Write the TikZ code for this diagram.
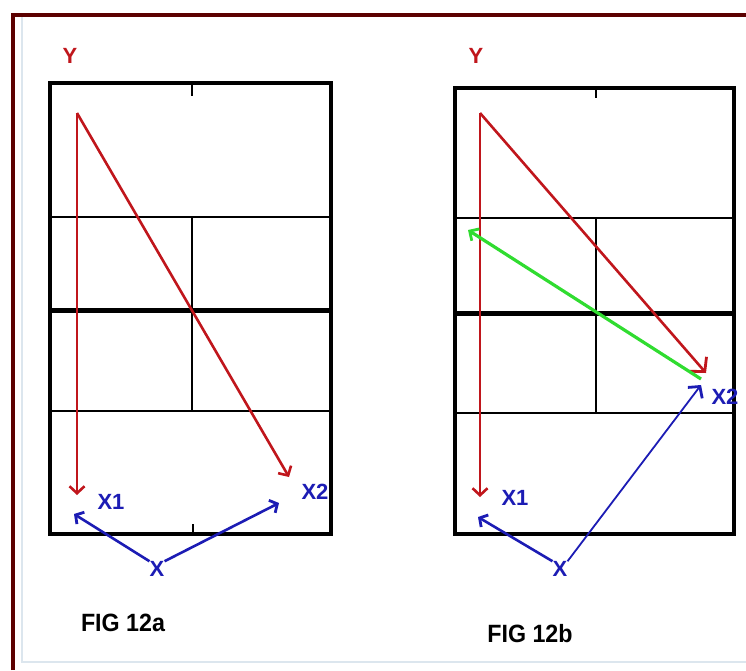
\documentclass[tikz,border=0pt]{standalone}
\usepackage{fontspec}
\setmainfont{Liberation Sans}
\usetikzlibrary{arrows.meta}
\definecolor{frame}{HTML}{5C0000}
\definecolor{vred}{HTML}{C0161C}
\definecolor{vblue}{HTML}{1C1CB4}
\definecolor{vgreen}{HTML}{30DC30}
\definecolor{faint}{HTML}{DCE6EE}
\tikzset{
  boxline/.style={line width=3.6pt,black},
  thinline/.style={line width=1.7pt,black},
  midline/.style={line width=5pt,black},
  redarrow/.style={line width=2.6pt,vred,-{Straight Barb[length=7pt,width=15pt,line width=2.6pt]}},
  bluearrow/.style={line width=2.6pt,vblue,-{Straight Barb[length=6pt,width=14pt,line width=2.8pt]}},
  greenarrow/.style={line width=3.2pt,vgreen,-{Straight Barb[length=7pt,width=14pt,line width=2.8pt]}},
  lbl/.style={font=\fontsize{22}{22}\bfseries\selectfont,inner sep=0pt},
  redlbl/.style={lbl,vred},
  bluelbl/.style={lbl,vblue},
  figlbl/.style={font=\fontsize{25}{25}\bfseries\selectfont,inner sep=0pt,xscale=0.93},
}
\begin{document}
\begin{tikzpicture}[x=1pt,y=-1pt]
\useasboundingbox (0,0) rectangle (746,670);
% frame
\draw[faint,line width=1.5pt] (22,17) -- (22,662) -- (746,662);
\draw[frame,line width=4.5pt] (13,670) -- (13,15) -- (746,15);

% ---------- FIG 12a ----------
\draw[thinline] (50,217) -- (331,217);
\draw[thinline] (50,411) -- (331,411);
\draw[thinline] (192,217) -- (192,411);
\draw[thinline] (192,83) -- (192,96);
\draw[thinline] (193,534) -- (193,524);
\draw[midline] (50,310) -- (331,310);
\draw[boxline] (50,83) rectangle (331,534);

\coordinate (a-top) at (77,113);
\coordinate (a-x1) at (77,495);
\coordinate (a-x2) at (289,477);
\coordinate (a-b1) at (74,514);
\coordinate (a-b2) at (279,503);
\node[redlbl] (a-y) at (70,56) {Y};
\node[bluelbl] (a-lx1) at (111,502) {X1};
\node[bluelbl] (a-lx2) at (315,492) {X2};
\node[bluelbl] (a-x) at (157,569) {X};
\node[figlbl] (a-fig) at (123,623) {FIG 12a};

\draw[redarrow] (a-top) -- (a-x1);
\draw[redarrow] (a-top) -- (a-x2);
\draw[bluearrow] (a-x.north west) -- (a-b1);
\draw[bluearrow] (a-x.north east) -- (a-b2);

% ---------- FIG 12b ----------
\draw[thinline] (455,218) -- (734,218);
\draw[thinline] (455,413) -- (734,413);
\draw[thinline] (596,218) -- (596,413);
\draw[thinline] (596,88) -- (596,98);
\draw[midline] (455,313) -- (734,313);
\draw[boxline] (455,88) rectangle (734,534);

\coordinate (b-top) at (480,113);
\coordinate (b-x1) at (480,497);
\coordinate (b-x2) at (706,373);
\coordinate (b-g0) at (701,379);
\coordinate (b-g1) at (468,230);
\coordinate (b-b1) at (478,517);
\coordinate (b-b2) at (701,385);
\node[redlbl] (b-y) at (476,56) {Y};
\node[bluelbl] (b-lx1) at (515,498) {X1};
\node[bluelbl] (b-lx2) at (725,397) {X2};
\node[bluelbl] (b-x) at (560,569) {X};
\node[figlbl] (b-fig) at (530,634) {FIG 12b};

\draw[redarrow] (b-top) -- (b-x1);
\draw[redarrow,-{Straight Barb[length=10pt,width=22pt,line width=2.8pt]}] (b-top) -- (b-x2);
\draw[greenarrow] (b-g0) -- (b-g1);
\draw[bluearrow] (b-x.north west) -- (b-b1);
\draw[line width=1.8pt,vblue,-{Straight Barb[length=8pt,width=18pt,line width=2.8pt]}] (b-x.north east) -- (b-b2);
\end{tikzpicture}
\end{document}
